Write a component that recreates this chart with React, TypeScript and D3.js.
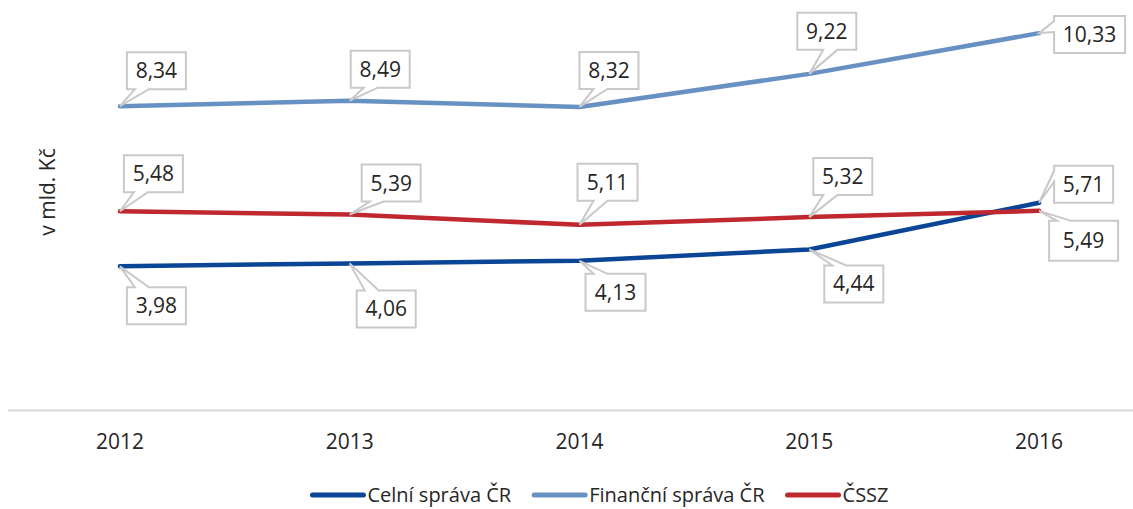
import React, { useEffect, useRef } from 'react';
import * as d3 from 'd3';

const years = ['2012', '2013', '2014', '2015', '2016'];
const celni = [3.98, 4.06, 4.13, 4.44, 5.71];
const financni = [8.34, 8.49, 8.32, 9.22, 10.33];
const cssz = [5.48, 5.39, 5.11, 5.32, 5.49];

const seriesNames = ['Celní správa ČR', 'Finanční správa ČR', 'ČSSZ'];
const yTitle = 'v mld. Kč';

// where each callout box sits relative to its point (dx, dy of top-left corner, width)
const celniBoxes = [[7, 21, 59], [7, 27, 59], [6, 13, 60], [15, 16, 59], [15, -37, 59]];
const financniBoxes = [[7, -54, 59], [1, -50, 59], [0, -55, 59], [-12, -61, 59], [15, -17, 71]];
const csszBoxes = [[4, -56, 59], [12, -50, 59], [-2, -61, 60], [4, -59, 59], [10, 10, 69]];

const W = 1133, H = 509;
const FONT = '"Open Sans", "Liberation Sans", sans-serif';
const TEXT = '#262626';

function calloutPath(px, py, bx, by, bw, bh) {
  const r = bx + bw, b = by + bh;
  if (py > b) {
    // point below box -> notch on bottom edge
    const n1 = Math.max(bx + 8, Math.min(px + 14, r - 24)), n2 = n1 + 14;
    return `M${bx},${by}H${r}V${b}H${n2}L${px},${py}L${n1},${b}H${bx}Z`;
  }
  if (py < by) {
    const n1 = Math.max(bx + 8, Math.min(px + 14, r - 24)), n2 = n1 + 14;
    return `M${bx},${by}H${n1}L${px},${py}L${n2},${by}H${r}V${b}H${bx}Z`;
  }
  // point left of box -> notch on left edge
  const m1 = by + 5, m2 = by + 16;
  return `M${bx},${by}H${r}V${b}H${bx}V${m2}L${px},${py}L${bx},${m1}Z`;
}

export default function App() {
  const ref = useRef(null);

  useEffect(() => {
    const svg = d3.select(ref.current);
    svg.selectAll('*').remove();

    const x = d3.scalePoint().domain(years).range([5, 1154]).padding(0.5);
    const y = d3.scaleLinear().domain([0, 11]).range([412.5, 8.5]);

    const series = [
      { name: seriesNames[0], values: celni, color: '#0b4596', boxes: celniBoxes },
      { name: seriesNames[1], values: financni, color: '#6891c3', boxes: financniBoxes },
      { name: seriesNames[2], values: cssz, color: '#c0282f', boxes: csszBoxes },
    ];

    // baseline axis
    svg.append('line')
      .attr('x1', 8).attr('x2', W)
      .attr('y1', y(0) - 2).attr('y2', y(0) - 2)
      .attr('stroke', '#d9d9d9').attr('stroke-width', 2);

    svg.append('g')
      .selectAll('text')
      .data(years)
      .enter()
      .append('text')
      .attr('x', d => x(d))
      .attr('y', 449)
      .attr('text-anchor', 'middle')
      .attr('font-family', FONT)
      .attr('font-size', 21)
      .attr('fill', TEXT)
      .text(d => d);

    svg.append('text')
      .attr('transform', `translate(55,192) rotate(-90)`)
      .attr('text-anchor', 'middle')
      .attr('font-family', FONT)
      .attr('font-size', 21)
      .attr('fill', TEXT)
      .text(yTitle);

    const line = d3.line().x((d, i) => x(years[i])).y(d => y(d));

    series.forEach(s => {
      svg.append('path')
        .attr('d', line(s.values))
        .attr('fill', 'none')
        .attr('stroke', s.color)
        .attr('stroke-width', 4.5)
        .attr('stroke-linecap', 'round')
        .attr('stroke-linejoin', 'round');
    });

    // callouts
    series.forEach(s => {
      s.values.forEach((v, i) => {
        const px = x(years[i]), py = y(v);
        const [dx, dy, bw] = s.boxes[i];
        const bh = i === 4 && s.name === 'ČSSZ' ? 40 : 37;
        const bx = px + dx, by = py + dy;
        svg.append('path')
          .attr('d', calloutPath(px, py, bx, by, bw, bh))
          .attr('fill', '#fff')
          .attr('stroke', '#c9c9c9')
          .attr('stroke-width', 2)
          .attr('stroke-linejoin', 'miter');
        svg.append('text')
          .attr('x', bx + bw / 2)
          .attr('y', by + bh / 2 + 7.5)
          .attr('text-anchor', 'middle')
          .attr('font-family', FONT)
          .attr('font-size', 21)
          .attr('fill', TEXT)
          .text(d3.format('.2f')(v).replace('.', ','));
      });
    });

    // legend, measured then centred
    const lg = svg.append('g');
    let cx = 0;
    series.forEach(s => {
      lg.append('line')
        .attr('x1', cx + 3).attr('x2', cx + 54)
        .attr('y1', 495).attr('y2', 495)
        .attr('stroke', s.color)
        .attr('stroke-width', 5)
        .attr('stroke-linecap', 'round');
      const t = lg.append('text')
        .attr('x', cx + 58)
        .attr('y', 502)
        .attr('font-family', FONT)
        .attr('font-size', 20)
        .attr('fill', TEXT)
        .text(s.name);
      cx += 58 + t.node().getComputedTextLength() + 20;
    });
    const total = cx - 20;
    lg.attr('transform', `translate(${599 - total / 2},0)`);
  }, []);

  return (
    <svg ref={ref} width={W} height={H} style={{ position: 'absolute', left: 0, top: 0, background: '#fff' }} />
  );
}
